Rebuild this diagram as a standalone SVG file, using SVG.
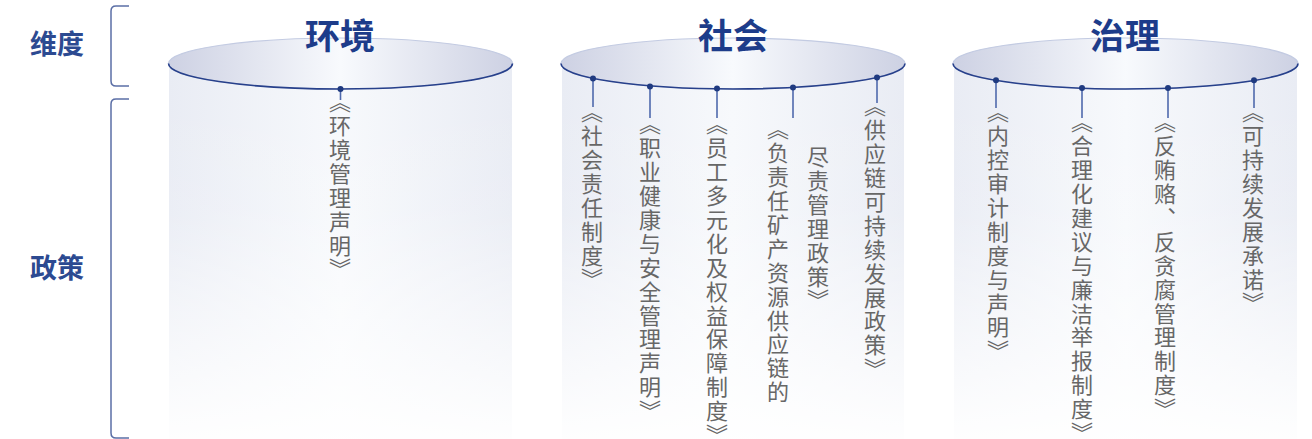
<svg xmlns="http://www.w3.org/2000/svg" width="1312" height="439" viewBox="0 0 1312 439">
<style>
.title{font-family:"Noto Sans CJK SC","Noto Sans",sans-serif;font-weight:700;font-size:35px;fill:#1d3c8a;text-anchor:middle}
.dim{font-family:"Noto Sans CJK SC","Noto Sans",sans-serif;font-weight:700;font-size:27px;fill:#2c4a91;text-anchor:middle}
.pol{font-family:"Noto Sans CJK SC","Noto Sans",sans-serif;font-size:22px;fill:#676767;writing-mode:vertical-rl;letter-spacing:1.9px}
.br{font-feature-settings:"vhal"}
.brk{fill:none;stroke:#5b6fa6;stroke-width:1.5}
.top{fill:url(#topg);stroke:#c3cbe2;stroke-width:1.2}
.front{fill:none;stroke:#27408b;stroke-width:1.6}
.body{fill:url(#bodyg)}
.lead{stroke:#4f69ad;stroke-width:1.6}
.dot{fill:#1f3a80}
</style>
<defs>
<linearGradient id="topg" x1="0" y1="0" x2="1" y2="0">
<stop offset="0" stop-color="#cdd1e3"/>
<stop offset="0.5" stop-color="#f8fafd"/>
<stop offset="1" stop-color="#cdd1e3"/>
</linearGradient>
<linearGradient id="bodyg" x1="0" y1="0" x2="1" y2="0">
<stop offset="0" stop-color="#e9ecf4"/>
<stop offset="0.5" stop-color="#f7f9fc"/>
<stop offset="1" stop-color="#e9ecf4"/>
</linearGradient>
<linearGradient id="fade" x1="0" y1="0" x2="0" y2="1">
<stop offset="0" stop-color="#fff" stop-opacity="0"/>
<stop offset="0.35" stop-color="#fff" stop-opacity="0.1"/>
<stop offset="1" stop-color="#fff" stop-opacity="0.95"/>
</linearGradient>
</defs>

<g id="labels">
<text class="dim" x="57" y="54">维度</text>
<text class="dim" x="57" y="278">政策</text>
<path class="brk" d="M129,6 H116 Q111,6 111,11 V81 Q111,86 116,86 H129"/>
<path class="brk" d="M129,99 H116 Q111,99 111,104 V433 Q111,438 116,438 H129"/>
</g>

<g id="cyl-env">
<rect class="body" x="169" y="63.5" width="343" height="376"/>
<ellipse class="top" cx="340.5" cy="63.5" rx="172" ry="25.5"/>
<path class="front" d="M168.5,63.5 A172,25.5 0 0 0 512.5,63.5"/>
<text class="title" x="340" y="49">环境</text>
</g>
<g id="cyl-soc">
<rect class="body" x="562" y="63.5" width="342" height="376"/>
<ellipse class="top" cx="733" cy="63.5" rx="172" ry="25.5"/>
<path class="front" d="M561,63.5 A172,25.5 0 0 0 905,63.5"/>
<text class="title" x="733" y="49">社会</text>
</g>
<g id="cyl-gov">
<rect class="body" x="954" y="63.5" width="343" height="376"/>
<ellipse class="top" cx="1125.5" cy="63.5" rx="172.5" ry="25.5"/>
<path class="front" d="M953,63.5 A172.5,25.5 0 0 0 1298,63.5"/>
<text class="title" x="1125" y="49">治理</text>
</g>
<rect x="160" y="90" width="1152" height="349" fill="url(#fade)"/>

<g id="connectors">
<line class="lead" x1="340.5" y1="89" x2="340.5" y2="100"/>
<line class="lead" x1="593" y1="78.5" x2="593" y2="107"/>
<line class="lead" x1="650" y1="86.5" x2="650" y2="118"/>
<line class="lead" x1="717" y1="88.5" x2="717" y2="118"/>
<line class="lead" x1="793" y1="87.5" x2="793" y2="118"/>
<line class="lead" x1="877" y1="77.5" x2="877" y2="103"/>
<line class="lead" x1="996" y1="80.3" x2="996" y2="108"/>
<line class="lead" x1="1082" y1="88" x2="1082" y2="118"/>
<line class="lead" x1="1168" y1="88" x2="1168" y2="118"/>
<line class="lead" x1="1254" y1="80.3" x2="1254" y2="108"/>
<circle class="dot" cx="340.5" cy="89" r="3"/>
<circle class="dot" cx="593" cy="78.5" r="3"/>
<circle class="dot" cx="650" cy="86.5" r="3"/>
<circle class="dot" cx="717" cy="88.5" r="3"/>
<circle class="dot" cx="793" cy="87.5" r="3"/>
<circle class="dot" cx="877" cy="77.5" r="3"/>
<circle class="dot" cx="996" cy="80.3" r="3"/>
<circle class="dot" cx="1082" cy="88" r="3"/>
<circle class="dot" cx="1168" cy="88" r="3"/>
<circle class="dot" cx="1254" cy="80.3" r="3"/>
</g>

<g id="policies">
<text class="pol" x="340" y="102"><tspan class="br">《</tspan>环境管理声明<tspan class="br">》</tspan></text>
<text class="pol" x="592" y="112"><tspan class="br">《</tspan>社会责任制度<tspan class="br">》</tspan></text>
<text class="pol" x="650" y="124"><tspan class="br">《</tspan>职业健康与安全管理声明<tspan class="br">》</tspan></text>
<text class="pol" x="717" y="124"><tspan class="br">《</tspan>员工多元化及权益保障制度<tspan class="br">》</tspan></text>
<text class="pol" x="778" y="129"><tspan class="br">《</tspan>负责任矿产资源供应链的</text>
<text class="pol" x="818" y="146">尽责管理政策<tspan class="br">》</tspan></text>
<text class="pol" x="875" y="106"><tspan class="br">《</tspan>供应链可持续发展政策<tspan class="br">》</tspan></text>
<text class="pol" x="998" y="112"><tspan class="br">《</tspan>内控审计制度与声明<tspan class="br">》</tspan></text>
<text class="pol" x="1082" y="122"><tspan class="br">《</tspan>合理化建议与廉洁举报制度<tspan class="br">》</tspan></text>
<text class="pol" x="1165" y="122"><tspan class="br">《</tspan>反贿赂、反贪腐管理制度<tspan class="br">》</tspan></text>
<text class="pol" x="1253" y="112"><tspan class="br">《</tspan>可持续发展承诺<tspan class="br">》</tspan></text>
</g>
</svg>
